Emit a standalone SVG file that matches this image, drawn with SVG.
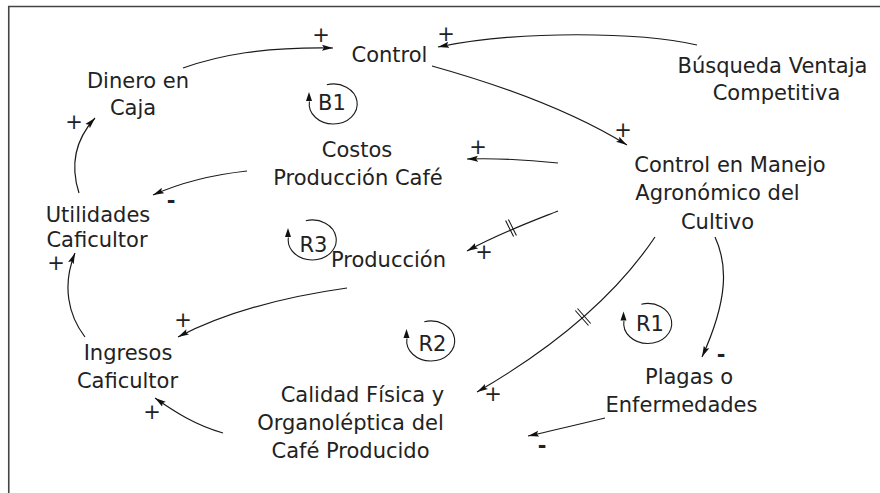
<svg xmlns="http://www.w3.org/2000/svg" width="880" height="493" viewBox="0 0 880 493">
<defs>
<style>
text{font-family:"DejaVu Sans","Liberation Sans",sans-serif;font-size:21px;fill:#222;text-anchor:middle}
.sg{font-size:21px}
.mn{font-size:21px;font-weight:bold}
.ln{fill:none;stroke:#1a1a1a;stroke-width:1.2}
.dl{fill:none;stroke:#1a1a1a;stroke-width:1.1}
.lp{fill:none;stroke:#1a1a1a;stroke-width:1.1}
.ah{fill:#111}
</style>
<marker id="arr" markerUnits="userSpaceOnUse" markerWidth="12" markerHeight="8" refX="11" refY="3.5" orient="auto">
<path d="M0,0.5 L11,3.5 L0,6.5 L2,3.5 z" fill="#111"/>
</marker>
</defs>
<rect width="880" height="493" fill="#fff"/>
<g id="frame"><path d="M8.75,493 V6.5 H880" fill="none" stroke="#444" stroke-width="1.6"/></g>

<g id="connectors">
<path class="ln" d="M183,68 C220,55 262,47 333,48" marker-end="url(#arr)"/>
<path class="ln" d="M697,45 C640,32 520,30 438,47" marker-end="url(#arr)"/>
<path class="ln" d="M432,66 C500,85 570,110 627,145" marker-end="url(#arr)"/>
<path class="ln" d="M558,163 C530,160 500,158 467,159" marker-end="url(#arr)"/>
<path class="ln" d="M558,211 C530,222 500,233 467,251" marker-end="url(#arr)"/>
<path class="ln" d="M247,171 C210,175 180,183 153,195" marker-end="url(#arr)"/>
<path class="ln" d="M79,193 C70,165 75,140 95,118" marker-end="url(#arr)"/>
<path class="ln" d="M85,337 C68,315 62,285 75,253" marker-end="url(#arr)"/>
<path class="ln" d="M347,288 C290,296 230,310 178,337" marker-end="url(#arr)"/>
<path class="ln" d="M223,433 C195,425 175,412 155,398" marker-end="url(#arr)"/>
<path class="ln" d="M655,237 Q598,322 477,392" marker-end="url(#arr)"/>
<path class="ln" d="M715,237 C728,265 728,300 702,357" marker-end="url(#arr)"/>
<path class="ln" d="M605,418 C580,424 555,430 528,436" marker-end="url(#arr)"/>
<path class="dl" d="M505.6,220.6 L513.6,236.6 M508.4,219.4 L516.4,235.4"/>
<path class="dl" d="M575.3,310.5 L588.5,325.5 M577.5,308.5 L590.7,323.5"/>
<text class="sg" x="321" y="42">+</text>
<text class="sg" x="446" y="41">+</text>
<text class="sg" x="623" y="137">+</text>
<text class="sg" x="478" y="154">+</text>
<text class="sg" x="484" y="259">+</text>
<text class="mn" x="171" y="208">-</text>
<text class="sg" x="74" y="129">+</text>
<text class="sg" x="56" y="270">+</text>
<text class="sg" x="183" y="327">+</text>
<text class="sg" x="152" y="419">+</text>
<text class="sg" x="493" y="401">+</text>
<text class="mn" x="721" y="362">-</text>
<text class="mn" x="542" y="453">-</text>
</g>

<g id="loop-B1">
<path class="lp" d="M326.8,84.7 A24,20 0 1 1 309.4,101.5"/>
<path class="ah" d="M309,92 L306,101 L312,101 z"/>
<text x="332" y="110">B1</text>
</g>
<g id="loop-R3">
<path class="lp" d="M305.8,220.7 A24,20 0 1 1 288.4,237.5"/>
<path class="ah" d="M288,228 L285,237 L291,237 z"/>
<text x="313.5" y="252">R3</text>
</g>
<g id="loop-R2">
<path class="lp" d="M424.3,321.7 A24,20 0 1 1 406.9,338.5"/>
<path class="ah" d="M406.5,329 L403.5,338 L409.5,338 z"/>
<text x="432.5" y="351">R2</text>
</g>
<g id="loop-R1">
<path class="lp" d="M641.3,304.2 A24,20 0 1 1 623.9,321"/>
<path class="ah" d="M623.5,311.5 L620.5,320.5 L626.5,320.5 z"/>
<text x="650" y="331">R1</text>
</g>

<g id="node-control"><text x="389.5" y="62">Control</text></g>
<g id="node-dinero"><text x="138" y="88">Dinero en</text><text x="133" y="115">Caja</text></g>
<g id="node-busqueda"><text x="772.5" y="73">Búsqueda Ventaja</text><text x="776.5" y="100">Competitiva</text></g>
<g id="node-costos"><text x="357" y="157">Costos</text><text x="358" y="185">Producción Café</text></g>
<g id="node-utilidades"><text x="98" y="222">Utilidades</text><text x="97" y="247">Caficultor</text></g>
<g id="node-cem"><text x="730" y="172">Control en Manejo</text><text x="717.5" y="200">Agronómico del</text><text x="717.5" y="229">Cultivo</text></g>
<g id="node-produccion"><text x="388.5" y="267">Producción</text></g>
<g id="node-plagas"><text x="689" y="384">Plagas o</text><text x="681.5" y="412">Enfermedades</text></g>
<g id="node-ingresos"><text x="128" y="360">Ingresos</text><text x="127.5" y="388">Caficultor</text></g>
<g id="node-calidad"><text x="362.5" y="402">Calidad Física y</text><text x="350.5" y="430">Organoléptica del</text><text x="350.5" y="458">Café Producido</text></g>
</svg>
